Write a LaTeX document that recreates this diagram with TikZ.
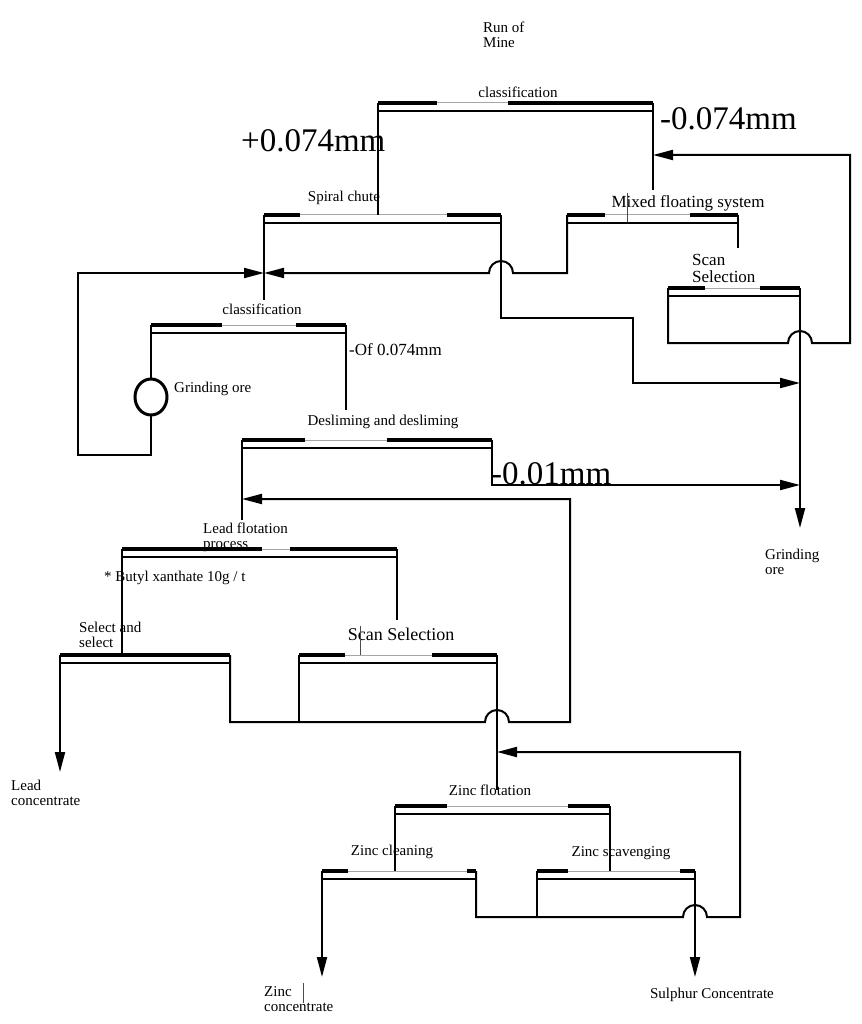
\documentclass[tikz,border=0pt]{standalone}
\usepackage{fontspec}
\setmainfont{Liberation Serif}
\usetikzlibrary{arrows.meta}
\newcommand{\cellbar}[5]{% x1,x2,y,xa,xb
  \draw[thinln] (#1,#3) -- (#1,#3+8) -- (#2,#3+8) -- (#2,#3);
  \draw[midln] (#4,#3) -- (#5,#3);
  \draw[thickln] (#1,#3) -- (#4,#3);
  \draw[thickln] (#5,#3) -- (#2,#3);
}
\begin{document}
\begin{tikzpicture}[x=1pt,y=-1pt,
  mainln/.style={line width=2pt,line join=miter},
  thinln/.style={line width=1.5pt},
  thickln/.style={line width=4pt},
  midln/.style={line width=1pt,black!35},
  artln/.style={line width=0.8pt,black!70},
  arr/.style={mainln,-{Triangle[length=20pt,width=10pt]}},
  lbl/.style={font=\fontsize{15}{15}\selectfont,inner sep=0pt},
  lblm/.style={font=\fontsize{17}{16}\selectfont,inner sep=0pt},
  lblb/.style={font=\fontsize{18}{15}\selectfont,inner sep=0pt},
  lblr/.style={font=\fontsize{17}{17}\selectfont,inner sep=0pt},
  big/.style={font=\fontsize{33}{33}\selectfont,inner sep=0pt}]
\path[use as bounding box,fill=white] (0,0) rectangle (861,1024);

% ---- texts
\node[lbl,anchor=north west,align=left] (rom) at (483,22) {Run of\\Mine};
\node[lbl] (lc1) at (518,92) {classification};
\node[big,anchor=base west] (p074) at (241,152) {+0.074mm};
\node[big,anchor=base west] (m074) at (660,130) {-0.074mm};
\node[lbl] (lsc) at (344,198) {Spiral chute};
\node[lblm] (lmf) at (688,203) {Mixed floating system};
\node[lblr,anchor=north west,align=left] (lss1) at (692,254) {Scan\\Selection};
\node[lbl,anchor=north west,align=left] (lgo2) at (765,549) {Grinding\\ore};
\node[lbl] (lc2) at (262,309) {classification};
\node[lblm,anchor=west] (lof) at (349,350) {-Of 0.074mm};
\node[lbl,anchor=west] (lgo1) at (174,389) {Grinding ore};
\node[lbl] (lds) at (383,422) {Desliming and desliming};
\node[big,anchor=base west] (m001) at (491,484) {-0.01mm};
\node[lbl,anchor=north west,align=left] (llf) at (203,523) {Lead flotation\\process};
\node[lbl,anchor=west] (lbx) at (104,578) {* Butyl xanthate 10g / t};
\node[lbl,anchor=north west,align=left] (lsel) at (79,622) {Select and\\select};
\node[lblb] (lss2) at (401,634) {Scan Selection};
\node[lbl,anchor=north west,align=left] (llc) at (11,780) {Lead\\concentrate};
\node[lbl] (lzf) at (490,790) {Zinc flotation};
\node[lbl] (lzc) at (392,852) {Zinc cleaning};
\node[lbl] (lzs) at (621,853) {Zinc scavenging};
\node[lbl,anchor=north west,align=left] (lzcc) at (264,986) {Zinc\\concentrate};
\node[lbl] (lsul) at (712,995) {Sulphur Concentrate};

% ---- coordinates
\coordinate (c1L) at (378,103); \coordinate (c1R) at (653,103);
\coordinate (scL) at (264,215); \coordinate (scR) at (501,215);
\coordinate (mfL) at (567,215); \coordinate (mfR) at (738,215);
\coordinate (srL) at (668,288); \coordinate (srR) at (800,288);
\coordinate (c2L) at (151,325); \coordinate (c2R) at (346,325);
\coordinate (dsL) at (242,440); \coordinate (dsR) at (492,440);
\coordinate (lfL) at (122,549); \coordinate (lfR) at (397,549);
\coordinate (seL) at (60,655);  \coordinate (seR) at (230,655);
\coordinate (slL) at (299,655); \coordinate (slR) at (497,655);
\coordinate (zfL) at (395,806); \coordinate (zfR) at (610,806);
\coordinate (zcL) at (322,871); \coordinate (zcR) at (476,871);
\coordinate (zsL) at (537,871); \coordinate (zsR) at (695,871);
\coordinate (mill) at (151,397);

% ---- cells
\cellbar{378}{653}{103}{437}{508}
\cellbar{264}{501}{215}{300}{447}
\cellbar{567}{738}{215}{605}{690}
\cellbar{668}{800}{288}{705}{760}
\cellbar{151}{346}{325}{222}{296}
\cellbar{242}{492}{440}{305}{387}
\cellbar{122}{397}{549}{262}{290}
\cellbar{60}{230}{655}{130}{130}
\cellbar{299}{497}{655}{345}{432}
\cellbar{395}{610}{806}{447}{568}
\cellbar{322}{476}{871}{348}{467}
\cellbar{537}{695}{871}{568}{680}

% ---- connectors
\draw[mainln] (c1L) -- (378,215);
\draw[mainln] (c1R) -- (653,190);
\draw[artln] (627,193) -- (627,222);
\draw[arr] (srL) -- (668,343) -- (788,343) arc[start angle=180,end angle=360,radius=12]
   -- (850,343) -- (850,155) -- (653,155);
\draw[mainln] (scL) -- (264,300);
\draw[arr] (scR) -- (501,318) -- (633,318) -- (633,383) -- (800,383);
\draw[arr] (mfL) -- (567,273) -- (513,273) arc[start angle=0,end angle=-180,radius=12] -- (264,273);
\draw[mainln] (mfR) -- (738,248);
\draw[arr] (srR) -- (800,528);
\draw[mainln] (c2L) -- (151,379);
\draw[line width=3pt] (mill) ellipse[x radius=16, y radius=18];
\draw[arr] (151,415) -- (151,455) -- (78,455) -- (78,273) -- (264,273);
\draw[mainln] (c2R) -- (346,410);
\draw[mainln] (dsL) -- (242,520);
\draw[arr] (dsR) -- (492,485) -- (800,485);
\draw[arr] (seR) -- (230,722) -- (485,722) arc[start angle=180,end angle=360,radius=12]
   -- (570,722) -- (570,499) -- (242,499);
\draw[mainln] (slL) -- (299,722);
\draw[mainln] (lfL) -- (122,655);
\draw[mainln] (lfR) -- (397,620);
\draw[artln] (360,626) -- (360,655);
\draw[arr] (seL) -- (60,772);
\draw[mainln] (slR) -- (497,790);
\draw[arr] (zcR) -- (476,917) -- (683,917) arc[start angle=180,end angle=360,radius=12]
   -- (740,917) -- (740,752) -- (497,752);
\draw[mainln] (zsL) -- (537,917);
\draw[mainln] (zfL) -- (395,871);
\draw[mainln] (zfR) -- (610,871);
\draw[arr] (zcL) -- (322,977);
\draw[arr] (zsR) -- (695,977);
\draw[artln] (303,983) -- (303,1003);
\end{tikzpicture}
\end{document}
